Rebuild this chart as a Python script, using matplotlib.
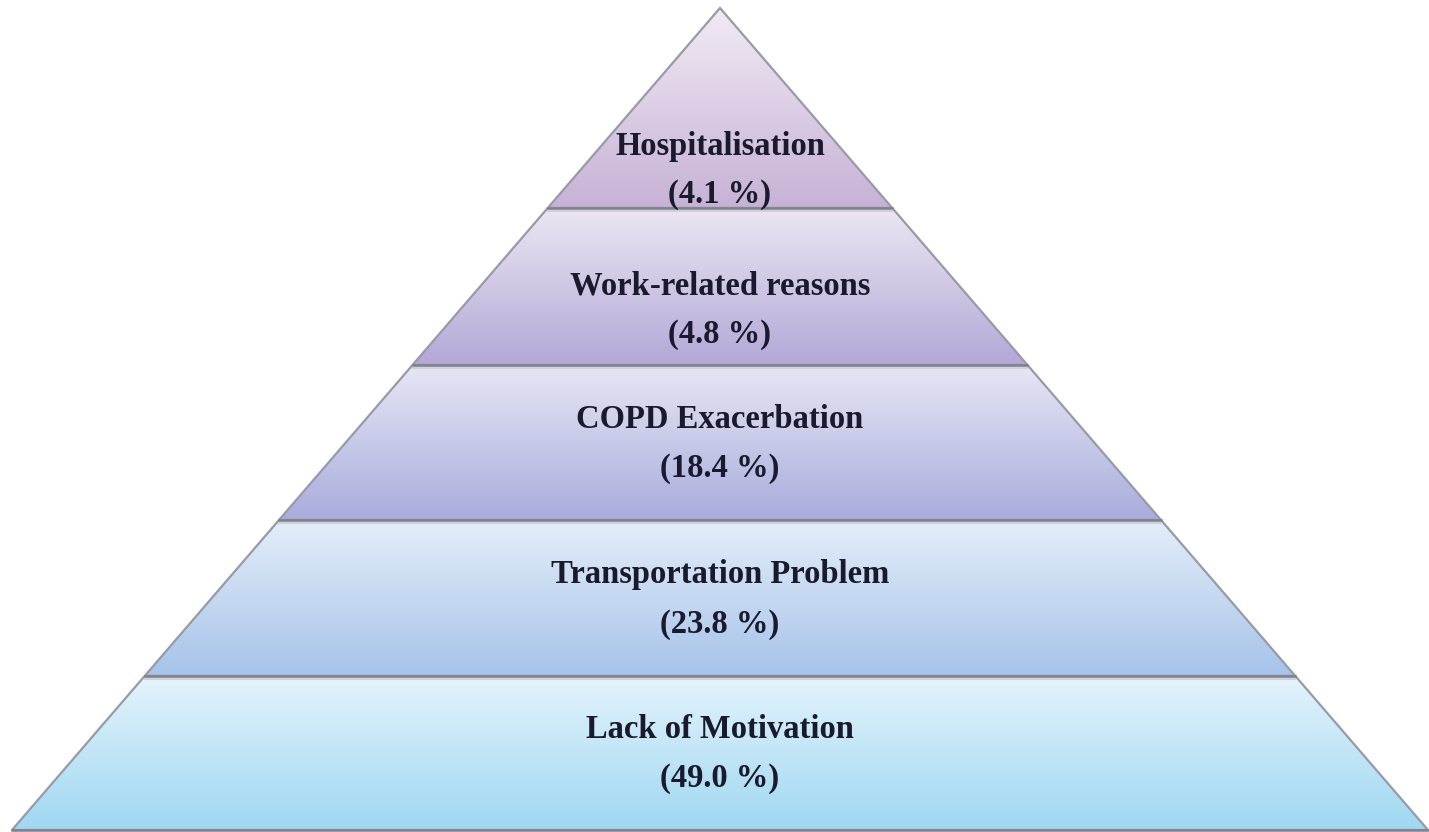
import numpy as np
import matplotlib.pyplot as plt
from matplotlib.patches import Polygon
from matplotlib.colors import LinearSegmentedColormap

# Reasons, top of the pyramid first
reasons = ['Hospitalisation', 'Work-related reasons', 'COPD Exacerbation',
           'Transportation Problem', 'Lack of Motivation']
percents = [4.1, 4.8, 18.4, 23.8, 49.0]

# gradient colours per band (top colour, bottom colour)
top_colors = ['#f1ebf4', '#ebe7f2', '#e6e7f4', '#e4eef9', '#e4f4fc']
bottom_colors = ['#c7b2d6', '#b3a8d7', '#a9acdd', '#a6c3e9', '#9fd7f1']

# layout in pixels
W, H = 1429, 832
apex_x, apex_y = 720, 8
base_y = 830
half_base = 708
cuts = [apex_y, 208, 365, 520, 676, base_y]
text_y = [170, 310, 443, 599, 753]

fig = plt.figure(figsize=(W / 100, H / 100), dpi=100)
ax = fig.add_axes([0, 0, 1, 1])
ax.set_xlim(0, W)
ax.set_ylim(H, 0)
ax.axis('off')


def half_width(y):
    return half_base * (y - apex_y) / (base_y - apex_y)


for i, (name, pct) in enumerate(zip(reasons, percents)):
    y0, y1 = cuts[i], cuts[i + 1]
    w0, w1 = half_width(y0), half_width(y1)
    pts = [(apex_x - w0, y0), (apex_x + w0, y0), (apex_x + w1, y1), (apex_x - w1, y1)]

    cmap = LinearSegmentedColormap.from_list('band%d' % i, [top_colors[i], bottom_colors[i]])
    grad = np.linspace(0, 1, 256).reshape(-1, 1)
    im = ax.imshow(grad, cmap=cmap, aspect='auto',
                   extent=(apex_x - w1, apex_x + w1, y1, y0), zorder=1)
    poly = Polygon(pts, closed=True, facecolor='none', edgecolor='#9a9aa6',
                   linewidth=1.6, zorder=2)
    ax.add_patch(poly)
    im.set_clip_path(poly)

    # darker divider line with soft shadow below
    ax.plot([apex_x - w1, apex_x + w1], [y1, y1], color='#7f8090', lw=1.8, zorder=3)
    ax.plot([apex_x - w1, apex_x + w1], [y1 + 2.5, y1 + 2.5], color='#d0d0d8',
            lw=1.5, zorder=2.5)

    ty = text_y[i]
    ax.text(apex_x, ty - 24, name, ha='center', va='center', fontsize=23.5,
            fontweight='bold', family='Liberation Serif', color='#1a1a2e', zorder=4)
    ax.text(apex_x, ty + 25, '(%.1f %%)' % pct, ha='center', va='center', fontsize=23.5,
            fontweight='bold', family='Liberation Serif', color='#1a1a2e', zorder=4)

fig.savefig('out.png', dpi=100, facecolor='white')
